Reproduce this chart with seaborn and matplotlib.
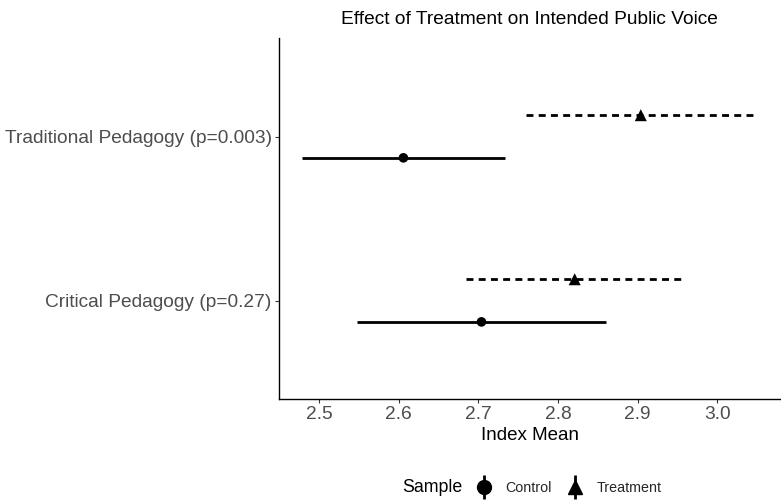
import numpy as np
import pandas as pd
import matplotlib
matplotlib.use("Agg")
import matplotlib.pyplot as plt
from matplotlib.lines import Line2D
from matplotlib.legend_handler import HandlerTuple
import seaborn as sns

# values
pedagogy = ["Critical Pedagogy (p=0.27)", "Traditional Pedagogy (p=0.003)"]
samples = ["Control", "Treatment"]
means = {"Control": [2.704, 2.606], "Treatment": [2.821, 2.904]}
lows = {"Control": [2.548, 2.479], "Treatment": [2.684, 2.760]}
highs = {"Control": [2.860, 2.733], "Treatment": [2.960, 3.051]}
offsets = {"Control": -0.13, "Treatment": 0.13}
line_styles = {"Control": "-", "Treatment": (0, (2.5, 1.9))}
markers = {"Control": "o", "Treatment": "^"}
marker_sizes = {"Control": 48, "Treatment": 75}

rows = []
for s in samples:
    for i, p in enumerate(pedagogy):
        rows.append({"pedagogy": p, "sample": s, "mean": means[s][i],
                     "low": lows[s][i], "high": highs[s][i],
                     "ypos": i + 1 + offsets[s]})
df = pd.DataFrame(rows)

sns.set_theme(style="white")
plt.rcParams["font.family"] = ["Liberation Sans", "DejaVu Sans"]

fig = plt.figure(figsize=(7.81, 5.01), dpi=100)
ax = fig.add_axes([0.357, 0.2036, 0.643, 0.7204])

for s in samples:
    sub = df[df["sample"] == s]
    ax.hlines(sub["ypos"], sub["low"], sub["high"], color="black",
              linewidth=2.0, linestyles=line_styles[s])

sns.scatterplot(data=df, x="mean", y="ypos", style="sample", markers=markers,
                size="sample", sizes=marker_sizes,
                color="black", edgecolor="black", linewidth=0, ax=ax,
                legend=False, zorder=3)

ax.set_xlim(2.4496, 3.08)
ax.set_ylim(0.4, 2.6)
ax.set_yticks([1, 2])
ax.set_yticklabels(pedagogy)
ax.set_xticks([2.5, 2.6, 2.7, 2.8, 2.9, 3.0])
ax.set_xticklabels(["2.5", "2.6", "2.7", "2.8", "2.9", "3.0"])
ax.tick_params(axis="both", labelsize=13.8, labelcolor="#4D4D4D", color="#333333",
               length=3, width=0.8, left=True, bottom=True, pad=2)
ax.set_xlabel("Index Mean", fontsize=13.5, color="black", labelpad=3)
ax.set_ylabel("")
for side in ["top", "right"]:
    ax.spines[side].set_visible(False)
for side in ["left", "bottom"]:
    ax.spines[side].set_color("black")
    ax.spines[side].set_linewidth(1.0)

ax.set_title("Effect of Treatment on Intended Public Voice", fontsize=13.8,
             color="black", pad=10)

handles = []
for s in samples:
    vline = Line2D([], [], marker="|", markersize=17, markeredgewidth=2,
                   color="black", linestyle="")
    mark = Line2D([], [], marker=markers[s], markersize=10, color="black",
                  linestyle="")
    handles.append((vline, mark))

fig.text(0.5147, 0.026, "Sample", fontsize=12.8, color="black",
         ha="left", va="center")
fig.legend(handles, samples, handler_map={tuple: HandlerTuple(ndivide=1)},
           loc="center left", bbox_to_anchor=(0.609, 0.026), ncol=2,
           frameon=False, fontsize=10.3, handlelength=1.2, handletextpad=0.9,
           columnspacing=1.0, borderpad=0, borderaxespad=0)

fig.savefig("out.png", dpi=100)
